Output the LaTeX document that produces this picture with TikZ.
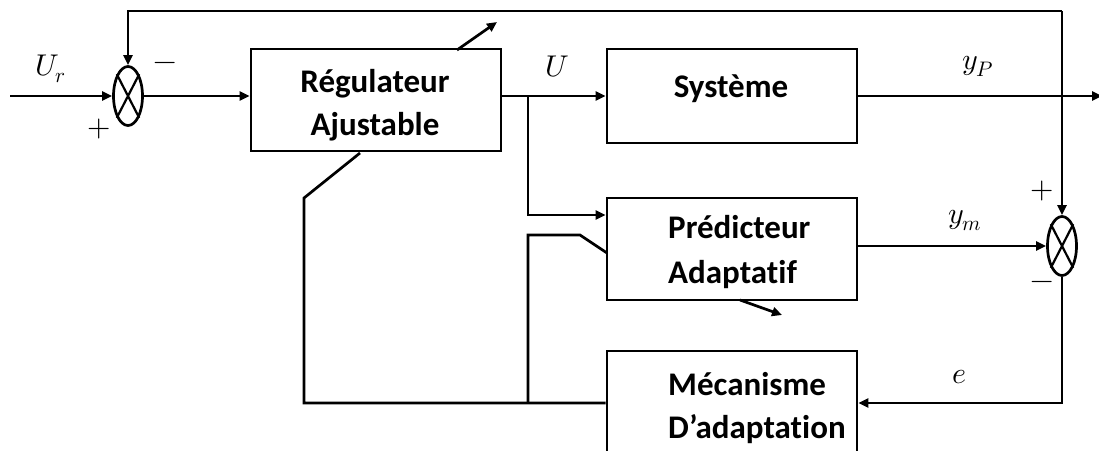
\documentclass[tikz,border=0pt]{standalone}
\usepackage{unicode-math}
\setmainfont{Carlito}[Ligatures=CommonOff]
\setmathfont{Latin Modern Math}
\usetikzlibrary{arrows.meta,shapes.geometric}
\tikzset{
  wire/.style={line width=2.7pt},
  sig/.style={wire,-{Triangle[length=10pt,width=9pt]}},
  blockbox/.style={draw,line width=2.7pt,rectangle,inner sep=0pt},
  summer/.style={draw,line width=2.7pt,ellipse,inner sep=0pt,minimum width=29pt,minimum height=59pt},
  btext/.style={font=\fontsize{33}{36}\selectfont\bfseries,inner sep=0pt},
  mlabel/.style={font=\fontsize{30}{32}\selectfont,inner sep=0pt},
}
\begin{document}
\begin{tikzpicture}[x=1pt,y=-1pt]
\useasboundingbox (0,0) rectangle (1099,450);

% blocks
\node[blockbox,minimum width=250pt,minimum height=102pt] (reg) at (376,100) {};
\node[blockbox,minimum width=250pt,minimum height=94pt] (sys) at (732,96) {};
\node[blockbox,minimum width=250pt,minimum height=102pt] (pred) at (732,249) {};
\node[blockbox,minimum width=250pt,minimum height=119pt] (mec) at (732,410.5) {};

% block texts
\node[btext,anchor=base] (regA) at (375,92) {Régulateur};
\node[btext,anchor=base] (regB) at (375,135) {Ajustable};
\node[btext,anchor=base] (sysT) at (731,97) {Système};
\node[btext,anchor=base west] (predA) at (668,238) {Prédicteur};
\node[btext,anchor=base west] (predB) at (668,283) {Adaptatif};
\node[btext,anchor=base west] (mecA) at (668,395) {Mécanisme};
\node[btext,anchor=base west] (mecB) at (668,438) {D’adaptation};

% summing junctions
\node[summer] (s1) at (128,96) {};
\draw[line width=2.2pt] (s1.north west) -- (s1.south east) (s1.north east) -- (s1.south west);
\node[summer] (s2) at (1062,246) {};
\draw[line width=2.2pt] (s2.north west) -- (s2.south east) (s2.north east) -- (s2.south west);

% helper points
\coordinate (in) at (10,96);
\coordinate (out) at (1102,96);
\coordinate (tr) at (1062,11);
\coordinate (ju) at (528,96);
\coordinate (jp) at (528,215);
\coordinate (ja) at (528,235);
\coordinate (jb) at (580,235);
\coordinate (jc) at (607,253);
\coordinate (jd) at (528,403);
\coordinate (bl) at (304,403);
\coordinate (bt) at (304,198);
\coordinate (br) at (360,153);
\coordinate (ec) at (1062,403);
\coordinate (ra0) at (457,50);
\coordinate (ra1) at (497,22);
\coordinate (pa0) at (740,300);
\coordinate (pa1) at (782,315);

% signal flow
\draw[sig] (in) -- (s1.west);
\draw[sig] (s1.east) -- (s1.east -| reg.west);
\draw[wire] (ju -| reg.east) -- (ju);
\draw[sig] (ju) -- (sys.west);
\draw[sig] (ju) -- (jp) -- (jp -| pred.west);
\draw[sig] (sys.east) -- (out);
\draw[sig] (tr) -| (s1.north);
\draw[sig] (tr) -- (s2.north);
\draw[sig] (s2.west -| pred.east) -- (s2.west);
\draw[sig] (s2.south) -- (ec) -- (ec -| mec.east);

% adaptation paths
\draw[wire] (bl -| mec.west) -- (bl) -- (bt) -- (br);
\draw[wire] (jd) -- (ja) -- (jb) -- (jc);
\draw[sig] (ra0) -- (ra1);
\draw[sig] (pa0) -- (pa1);

% labels
\node[mlabel,anchor=base west] (lur) at (35,75) {$U_r$};
\node[mlabel] (lm1) at (165,66) {$-$};
\node[mlabel] (lp1) at (99,129) {$+$};
\node[mlabel,anchor=base west] (lu) at (545,76) {$U$};
\node[mlabel,anchor=base west] (lyp) at (962,69) {$y_P$};
\node[mlabel,anchor=base west] (lym) at (948,223) {$y_m$};
\node[mlabel,anchor=base west] (le) at (952,383) {$e$};
\node[mlabel] (lp2) at (1042,191) {$+$};
\node[mlabel] (lm2) at (1042,285) {$-$};
\end{tikzpicture}
\end{document}
